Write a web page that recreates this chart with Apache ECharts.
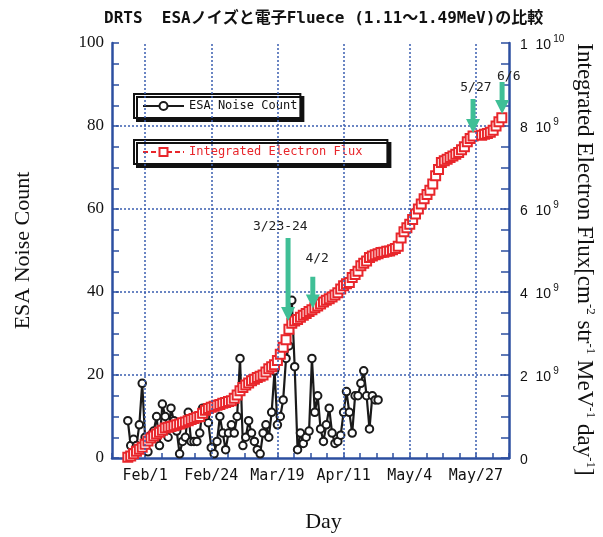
<!DOCTYPE html>
<html><head><meta charset="utf-8">
<script src="https://cdn.jsdelivr.net/npm/echarts@6/dist/echarts.min.js"></script>
<style>html,body{margin:0;padding:0;background:#fff}#c{width:603px;height:537px}</style>
</head><body><div id="c"></div>
<script>
// ---- chart text ----
const titleText = 'DRTS  ESAノイズと電子Fluece (1.11〜1.49MeV)の比較';
// x axis: day of year (2003)
const xLabelDays = [32, 55, 78, 101, 124, 147];
const xLabelText = ['Feb/1', 'Feb/24', 'Mar/19', 'Apr/11', 'May/4', 'May/27'];
// ---- ESA noise count (left axis) ----
const esaDays = [26,27,28,29,30,31,32,33,34,35,36,37,38,39,40,41,42,43,44,45,46,47,48,49,50,51,52,53,54,55,
  56,57,58,59,60,61,62,63,64,65,66,67,68,69,70,71,72,73,74,75,76,77,78,79,80,81,82,83,84,85,
  86,87,88,89,90,91,92,93,94,95,96,97,98,99,100,101,102,103,104,105,106,107,108,109,110,111,112,113];
const esaCounts = [9,3,4.5,3,8,18,5,1.5,5.5,6.5,10,3,13,10,5,12,9,6.5,1,4,5,11,4,4,4,6,12,10,8.5,2.5,
  1,4,10,6,2,6,8,6,10,24,3,5,9,6,4,2,1,6,8,5,11,21,8,10,14,24,27,38,22,2,
  6,3.5,5,6.5,24,11,15,7,4,8,12,6,3.5,4,5.5,11,16,11,6,15,15,18,21,15,7,15,14,14];
// ---- integrated electron flux (right axis), in units of 1e9 ----
const fluxDays = [26,27,28,29,30,31,32,33,34,35,36,37,38,39,40,41,42,43,44,45,46,47,48,49,50,
  51,52,53,54,55,56,57,58,59,60,61,62,63,64,65,66,67,68,69,70,71,72,73,74,75,
  76,77,78,79,80,81,82,83,84,85,86,87,88,89,90,91,92,93,94,95,96,97,98,99,100,
  101,102,103,104,105,106,107,108,109,110,111,112,113,114,115,116,117,118,119,120,
  121,122,123,124,125,126,127,128,129,130,131,132,133,134,135,136,137,138,139,140,
  141,142,143,144,145,146,149,150,151,152,153,154,155,156];
const fluxE9 = [0.02,0.05,0.1,0.16,0.21,0.26,0.33,0.41,0.48,0.53,0.58,0.62,0.67,0.72,0.74,0.76,0.78,0.8,0.82,0.85,0.87,0.9,0.93,0.95,0.98,
  1.0,1.08,1.15,1.19,1.22,1.25,1.27,1.29,1.32,1.34,1.36,1.38,1.44,1.52,1.62,1.7,1.76,1.81,1.86,1.9,1.94,1.97,2.0,2.07,2.15,
  2.2,2.25,2.35,2.5,2.67,2.85,3.1,3.25,3.3,3.34,3.39,3.44,3.48,3.53,3.57,3.62,3.66,3.71,3.76,3.8,3.84,3.88,3.93,3.98,4.07,
  4.15,4.2,4.23,4.35,4.42,4.5,4.63,4.69,4.75,4.83,4.87,4.9,4.92,4.95,4.96,4.98,4.99,5.02,5.05,5.1,
  5.3,5.45,5.55,5.63,5.75,5.88,6.0,6.12,6.25,6.35,6.45,6.6,6.8,6.95,7.12,7.16,7.2,7.24,7.28,7.32,
  7.36,7.43,7.5,7.62,7.7,7.76,7.78,7.8,7.82,7.85,7.9,8.0,8.1,8.2];
// ---- event annotations (arrows) ----
const annLabels   = ['3/23-24', '4/2', '5/27', '6/6'];
const annTipDay   = [81.7, 90.3, 146, 156.1];
const annTipVal   = [33, 36, 78.3, 82.9];
const annTopVal   = [53, 43.7, 86.5, 90.6];
const annLabelDay = [79, 91.8, 147, 158.4];
const annLabelVal = [55.7, 48, 89.2, 92];

const axisBlue = '#2c4fa0';
const gridBlue = '#3a5db0';
const red = '#e8262b';
const mono = "'DejaVu Sans Mono', 'Noto Sans CJK JP', monospace";
const serif = "'Liberation Serif', 'Times New Roman', serif";

function xLabel(v) {
  for (let i = 0; i < xLabelDays.length; i++) if (Math.abs(v - xLabelDays[i]) < 1e-6) return xLabelText[i];
  return '';
}
function fluxLabel(v) {
  if (v === 0) return '{n|0}';
  const p = Math.floor(Math.log10(v) + 1e-9);
  return '{n|' + Math.round(v / Math.pow(10, p)) + '  10}{e|' + p + '}';
}

const chart = echarts.init(document.getElementById('c'), null, {renderer: 'canvas'});
const option = {
  animation: false,
  backgroundColor: '#fff',
  title: {
    text: titleText, left: 99, top: 6, padding: 5,
    textStyle: {fontFamily: mono, fontWeight: 'bold', fontSize: 16, color: '#111'}
  },
  grid: {left: 112, right: 94, top: 43, bottom: 79, containLabel: false, outerBoundsMode: 'none'},
  legend: [
    {
      data: ['ESA Noise Count'], left: 134, top: 94, padding: [6, 3, 6, 8],
      itemWidth: 41, itemHeight: 10, selectedMode: false,
      backgroundColor: '#fff', borderColor: '#111', borderWidth: 2, borderRadius: 0,
      shadowColor: '#111', shadowBlur: 0, shadowOffsetX: 3, shadowOffsetY: 3,
      textStyle: {fontFamily: mono, fontSize: 12, color: '#111'}
    },
    {
      data: ['Integrated Electron Flux'], left: 134, top: 140, padding: [6, 25, 6, 8],
      itemWidth: 41, itemHeight: 10, selectedMode: false,
      backgroundColor: '#fff', borderColor: '#111', borderWidth: 2, borderRadius: 0,
      shadowColor: '#111', shadowBlur: 0, shadowOffsetX: 3, shadowOffsetY: 3,
      textStyle: {fontFamily: mono, fontSize: 12, color: red}
    }
  ],
  xAxis: [{
    type: 'value', min: 20.5, max: 158.5, interval: 5.75, position: 'bottom',
    axisLine: {show: true, onZero: false, lineStyle: {color: axisBlue, width: 2.5}},
    axisTick: {show: true, inside: true, length: 5, lineStyle: {color: axisBlue, width: 1.5}},
    axisLabel: {show: true, formatter: xLabel, margin: 11, hideOverlap: false,
      fontFamily: mono, fontSize: 15, color: '#111'},
    splitLine: {show: false},
    name: 'Day', nameLocation: 'middle', nameGap: 53, nameMoveOverlap: false,
    nameTextStyle: {fontFamily: serif, fontSize: 22, color: '#111', padding: [0, 0, 0, 26]}
  }],
  yAxis: [{
    type: 'value', min: 0, max: 100, interval: 20, position: 'left',
    axisLine: {show: true, onZero: false, lineStyle: {color: axisBlue, width: 2.5}},
    axisTick: {show: true, inside: true, length: 7, lineStyle: {color: axisBlue, width: 1.5}},
    minorTick: {show: true, splitNumber: 4, length: 7, lineStyle: {color: axisBlue, width: 1.5}},
    axisLabel: {margin: 8, fontFamily: serif, fontSize: 17, color: '#111', hideOverlap: false},
    splitLine: {show: true, showMinLine: false, showMaxLine: false,
      lineStyle: {color: gridBlue, type: [2, 2], width: 1.5}},
    name: 'ESA Noise Count', nameLocation: 'middle', nameGap: 78, nameMoveOverlap: false,
    nameTextStyle: {fontFamily: serif, fontSize: 22, color: '#111'}
  }, {
    type: 'value', min: 0, max: 1e10, interval: 2e9, position: 'right',
    axisLine: {show: true, onZero: false, lineStyle: {color: axisBlue, width: 2.5}},
    axisTick: {show: true, inside: true, length: 8, lineStyle: {color: axisBlue, width: 1.5}},
    minorTick: {show: true, splitNumber: 4, length: 8, lineStyle: {color: axisBlue, width: 1.5}},
    axisLabel: {margin: 11, align: 'left', formatter: fluxLabel, hideOverlap: false,
      rich: {
        n: {fontFamily: "'Liberation Sans', sans-serif", fontSize: 14, color: '#111', verticalAlign: 'bottom', lineHeight: 18},
        e: {fontFamily: "'Liberation Sans', sans-serif", fontSize: 10, color: '#111', verticalAlign: 'top', lineHeight: 10, padding: [0, 0, 0, 2]}
      }},
    splitLine: {show: false},
    name: 'Integrated Electron Flux[cm{s|-2} str{s|-1} MeV{s|-1} day{s|-1}]',
    nameLocation: 'middle', nameRotate: -90, nameGap: 62, nameMoveOverlap: false,
    nameTextStyle: {fontFamily: serif, fontSize: 23, color: '#111', lineHeight: 26, verticalAlign: 'bottom',
      padding: [0, 0, 0, 18],
      rich: {s: {fontFamily: serif, fontSize: 13, color: '#111', verticalAlign: 'top', lineHeight: 13}}}
  }],
  series: [
    {
      type: 'line', data: [], z: 1, silent: true, xAxisIndex: 0, yAxisIndex: 0,
      markLine: {silent: true, symbol: ['none', 'none'], label: {show: false},
        lineStyle: {color: gridBlue, type: [2, 2], width: 1.5},
        emphasis: {disabled: true},
        data: xLabelDays.map(d => ({xAxis: d}))}
    },
    {
      name: 'ESA Noise Count', type: 'line', xAxisIndex: 0, yAxisIndex: 0, z: 3,
      data: esaDays.map((d, i) => [d, esaCounts[i]]),
      symbol: 'emptyCircle', symbolSize: 7.5,
      lineStyle: {color: '#1a1a1a', width: 2.2},
      itemStyle: {color: '#1a1a1a', borderWidth: 1.8}
    },
    {
      name: 'Integrated Electron Flux', type: 'line', xAxisIndex: 0, yAxisIndex: 1, z: 4,
      data: fluxDays.map((d, i) => [d, fluxE9[i] * 1e9]),
      symbol: 'emptyRect', symbolSize: 9,
      lineStyle: {color: red, width: 2, type: [5, 3]},
      itemStyle: {color: red, borderWidth: 1.9}
    }
  ]
};
chart.setOption(option);

// annotation arrows, positioned through the chart's own scales
const graphics = [];
for (let i = 0; i < annLabels.length; i++) {
  const tip = chart.convertToPixel({xAxisIndex: 0, yAxisIndex: 0}, [annTipDay[i], annTipVal[i]]);
  const top = chart.convertToPixel({xAxisIndex: 0, yAxisIndex: 0}, [annTipDay[i], annTopVal[i]]);
  const lab = chart.convertToPixel({xAxisIndex: 0, yAxisIndex: 0}, [annLabelDay[i], annLabelVal[i]]);
  const x = tip[0], ty = tip[1], sy = top[1], hl = 14, hw = 7, sw = 2.5;
  graphics.push({
    type: 'polygon', z: 100,
    shape: {points: [[x - sw, sy], [x + sw, sy], [x + sw, ty - hl], [x + hw, ty - hl], [x, ty], [x - hw, ty - hl], [x - sw, ty - hl]]},
    style: {fill: '#3fbf96'}
  });
  graphics.push({
    type: 'text', z: 100, x: lab[0], y: lab[1],
    style: {text: annLabels[i], font: "13px 'DejaVu Sans Mono'", fill: '#222', textAlign: 'center', textVerticalAlign: 'middle'}
  });
}
chart.setOption({graphic: graphics});
</script>
</body></html>
